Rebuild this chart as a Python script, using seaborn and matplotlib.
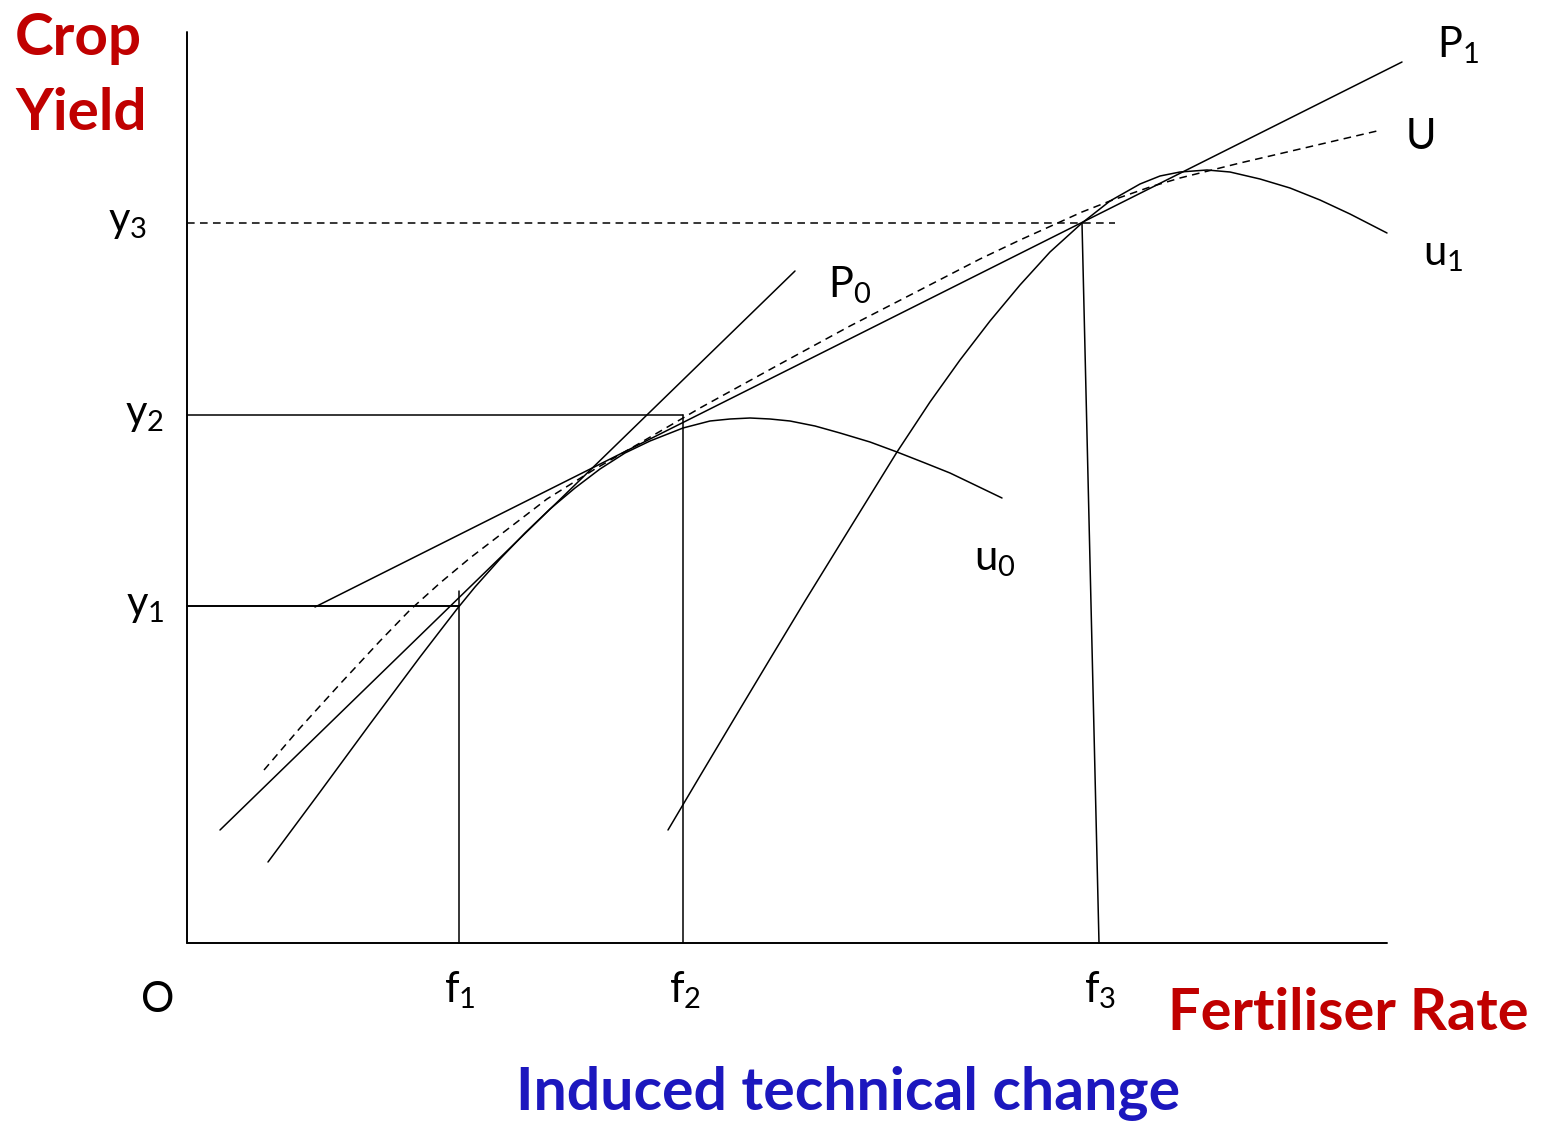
import numpy as np
import pandas as pd
import seaborn as sns
import matplotlib.pyplot as plt

# Induced technical change diagram
# units: origin O at the corner, x = fertiliser rate, y = crop yield

# reference levels
f_levels = [272, 496, 895]          # f1, f2, f3 (where they meet the curves)
f3_foot = 912                        # f3 line leans slightly, foot on the x axis
f1_top = 352                         # f1 line overshoots y1 a little
y_levels = [337, 528, 720]          # y1, y2, y3
y3_end = 928                         # dashed y3 line runs past f3

# price lines
p0_x = [33, 608]
p0_y = [113, 672]
p1_x = [128, 1215]
p1_y = [336, 881]

# response curve u0 (old variety)
u0_x = [81, 133, 183, 233, 253, 270, 288, 313, 338, 363, 388, 413, 438, 463, 496, 523, 543, 563, 583,
        603, 628, 653, 683, 710, 738, 763, 788, 815]
u0_y = [81, 151, 219, 286, 312, 334, 356, 384, 410, 434, 455, 474, 490, 502, 515, 522, 524, 525, 524,
        522, 517, 510, 501, 491, 480, 470, 458, 445]

# response curve u1 (new variety)
u1_x = [481, 513, 553, 583, 618, 663, 710, 743, 773, 803, 833, 863, 895, 923, 953, 973, 993, 1020,
        1043, 1073, 1103, 1133, 1163, 1200]
u1_y = [113, 167, 234, 284, 342, 415, 491, 541, 583, 622, 658, 691, 720, 742, 759, 767, 771, 773,
        771, 764, 755, 743, 729, 710]

# envelope U (meta response curve)
U_x = [77, 113, 153, 193, 223, 253, 283, 313, 360, 408, 453, 496, 513, 553, 593, 663, 733, 793, 833, 853,
       895, 923, 963, 993, 1053, 1113, 1190]
U_y = [173, 215, 259, 302, 333, 360, 385, 408, 444, 474, 500, 525, 535, 557, 579, 617, 653, 684, 703, 712,
       731, 742, 756, 765, 780, 794, 812]

sns.set_style("white")
plt.rcParams['font.family'] = ['Lato', 'DejaVu Sans']

fig = plt.figure(figsize=(15.45, 11.21), dpi=100)
ax = fig.add_axes([0, 0, 1, 1])

lw = 1.1
dash = (0, (5, 3.5))

def seg(x, y, **kw):
    kw.setdefault('color', 'black')
    kw.setdefault('lw', lw)
    sns.lineplot(x=x, y=y, sort=False, estimator=None, ax=ax, **kw)

# axes
seg([0, 1200], [0, 0], lw=1.4)
seg([0, 0], [0, 911], lw=1.4)

# guide lines
seg([0, f_levels[0]], [y_levels[0], y_levels[0]], lw=1.4)
seg([f_levels[0], f_levels[0]], [0, f1_top])
seg([0, f_levels[1]], [y_levels[1], y_levels[1]])
seg([f_levels[1], f_levels[1]], [0, y_levels[1]])
seg([0, y3_end], [y_levels[2], y_levels[2]], linestyle=dash)
seg([f3_foot, f_levels[2]], [0, y_levels[2]])

# price lines and curves
seg(p0_x, p0_y)
seg(p1_x, p1_y)
seg(u0_x, u0_y)
seg(u1_x, u1_y)
seg(U_x, U_y, linestyle=dash)

ax.set_xlim(-187, 1358)
ax.set_ylim(-178, 943)
ax.axis('off')

# labels
lab = dict(fontsize=30, color='black', ha='center', va='center')
ax.text(-29, -57, 'O', **lab)
for i, fx in enumerate([273, 498, 913]):
    ax.text(fx, -47, r'$\mathregular{f_%d}$' % (i + 1), **lab)
ax.text(-59, 721, r'$\mathregular{y_3}$', **lab)
ax.text(-42, 528, r'$\mathregular{y_2}$', **lab)
ax.text(-42, 337, r'$\mathregular{y_1}$', **lab)
ax.text(663, 658, r'$\mathregular{P_0}$', **lab)
ax.text(1271, 898, r'$\mathregular{P_1}$', **lab)
ax.text(1234, 806, 'U', **lab)
ax.text(1256, 688, r'$\mathregular{u_1}$', **lab)
ax.text(808, 383, r'$\mathregular{u_0}$', **lab)

red = '#C00000'
blue = '#1C17BE'
ax.text(-172, 888, 'Crop', fontsize=42, fontweight='bold', color=red, ha='left', va='baseline')
ax.text(-172, 813, 'Yield', fontsize=42, fontweight='bold', color=red, ha='left', va='baseline')
ax.text(981, -87, 'Fertiliser Rate', fontsize=41.6, fontweight='bold', color=red, ha='left', va='baseline')
ax.text(661, -167, 'Induced technical change', fontsize=42.5, fontweight='bold', color=blue,
        ha='center', va='baseline')

fig.savefig('out.png', dpi=100)
